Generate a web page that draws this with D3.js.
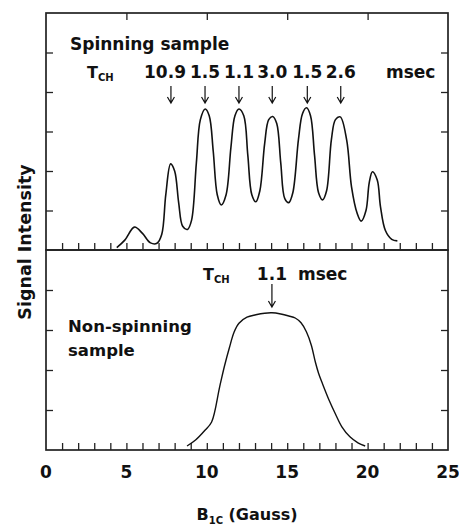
<!DOCTYPE html>
<html>
<head>
<meta charset="utf-8">
<script src="https://cdn.jsdelivr.net/npm/d3@7"></script>
<style>
    body { margin: 0; background: #fff; }
    text { font-family: "DejaVu Sans", sans-serif; font-weight: bold; fill: #111; }
</style>
</head>
<body>
<script>
// spinning sample spectrum: field (Gauss) and signal intensity (arb.)
const spinField = [4.4, 4.9, 5.5, 6.0, 6.5, 6.9, 7.2, 7.45, 7.75, 8.0, 8.25, 8.5, 8.8, 9.05, 9.35, 9.6, 9.9, 10.15,
    10.4, 10.65, 10.9, 11.2, 11.5, 11.75, 12.0, 12.3, 12.55, 12.8, 13.05, 13.3, 13.6, 13.85, 14.1, 14.35, 14.6,
    14.85, 15.1, 15.35, 15.7, 15.95, 16.2, 16.45, 16.7, 16.95, 17.2, 17.45, 17.75, 18.0, 18.3, 18.7, 19.0, 19.35,
    19.6, 19.9, 20.1, 20.3, 20.6, 20.8, 21.1, 21.5, 21.85];
const spinSignal = [0.06, 0.25, 0.58, 0.42, 0.18, 0.17, 0.4, 1.4, 2.18, 2.0, 1.2, 0.6, 0.52, 0.75, 2.2, 3.3, 3.57, 3.4,
    2.5, 1.4, 1.14, 1.4, 2.6, 3.4, 3.57, 3.4, 2.4, 1.4, 1.22, 1.5, 2.7, 3.3, 3.38, 3.2, 2.2,
    1.3, 1.2, 1.45, 2.8, 3.45, 3.6, 3.4, 2.4, 1.45, 1.27, 1.5, 2.8, 3.3, 3.37, 2.78, 1.6, 0.93,
    0.73, 1.0, 1.7, 1.98, 1.77, 1.1, 0.5, 0.27, 0.23];

// non-spinning sample spectrum
const staticField = [8.77, 9.3, 9.9, 10.3, 10.8, 11.1, 11.4, 11.7, 12.0, 12.5, 13.05, 13.6, 14.05, 14.6, 15.1, 15.5,
    15.86, 16.2, 16.5, 16.75, 16.95, 17.2, 17.6, 18.0, 18.4, 18.9, 19.4, 19.85];
const staticSignal = [0.1, 0.25, 0.5, 0.7, 1.58, 2.1, 2.55, 2.95, 3.17, 3.32, 3.38, 3.42, 3.43, 3.4, 3.35, 3.3,
    3.18, 2.95, 2.62, 2.2, 1.92, 1.65, 1.25, 0.9, 0.58, 0.33, 0.18, 0.1];

// T_CH annotations
const spinTchField = [7.77, 9.89, 12.0, 14.07, 16.25, 18.33];
const spinTchLabels = ["10.9", "1.5", "1.1", "3.0", "1.5", "2.6"];
const staticTchField = [14.05];
const staticTchLabels = ["1.1"];

const xTickLabels = [0, 5, 10, 15, 20, 25];

const svgWidth = 459;
const svgHeight = 526;
const plot = {left: 46, right: 448, top: 13, mid: 250, bottom: 450};
const tickLen = 7;

window.onload = main;

function main() {
    const svg = d3.select("body").append("svg")
        .attr("width", svgWidth)
        .attr("height", svgHeight);

    const x = d3.scaleLinear().domain([0, 25]).range([plot.left, plot.right]);
    const yTop = d3.scaleLinear().domain([0, 6]).range([plot.mid, plot.top]);
    const yBot = d3.scaleLinear().domain([0, 5]).range([plot.bottom, plot.mid]);

    // axes (ticks all point inward)
    const noLabel = () => "";
    const addAxis = (axis, tx, ty) => {
        const g = svg.append("g").attr("transform", `translate(${tx},${ty})`).call(axis);
        g.select(".domain").remove();
        g.selectAll("line").attr("stroke", "#222").attr("stroke-width", 1.3);
        return g;
    };
    addAxis(d3.axisTop(x).tickValues([5, 10, 15, 20]).tickSize(-tickLen).tickFormat(noLabel), 0, plot.top);
    addAxis(d3.axisBottom(x).tickValues(d3.range(1, 25)).tickSize(-tickLen).tickFormat(noLabel), 0, plot.mid);
    addAxis(d3.axisLeft(yTop).tickValues([1, 2, 3, 4, 5]).tickSize(-tickLen).tickFormat(noLabel), plot.left, 0);
    addAxis(d3.axisRight(yTop).tickValues([1, 2, 3, 4, 5]).tickSize(-tickLen).tickFormat(noLabel), plot.right, 0);
    addAxis(d3.axisLeft(yBot).tickValues([1, 2, 3, 4]).tickSize(-tickLen).tickFormat(noLabel), plot.left, 0);
    addAxis(d3.axisRight(yBot).tickValues([1, 2, 3, 4]).tickSize(-tickLen).tickFormat(noLabel), plot.right, 0);
    addAxis(d3.axisBottom(x).tickValues(d3.range(1, 25)).tickSize(-tickLen).tickFormat(noLabel), 0, plot.bottom);

    svg.append("g")
        .selectAll("text")
        .data(xTickLabels)
        .join("text")
        .attr("x", d => x(d))
        .attr("y", plot.bottom + 28)
        .attr("text-anchor", "middle")
        .style("font-size", "17px")
        .text(d => d);

    // frames
    [[plot.top, plot.mid], [plot.mid, plot.bottom]].forEach(([t, b]) => {
        svg.append("rect")
            .attr("x", plot.left).attr("y", t)
            .attr("width", plot.right - plot.left).attr("height", b - t)
            .attr("fill", "none").attr("stroke", "#222").attr("stroke-width", 1.7);
    });

    // curves
    const lineTop = d3.line().x(d => x(d[0])).y(d => yTop(d[1])).curve(d3.curveCatmullRom.alpha(0.5));
    const lineBot = d3.line().x(d => x(d[0])).y(d => yBot(d[1])).curve(d3.curveCatmullRom.alpha(0.5));

    svg.append("path")
        .datum(d3.zip(spinField, spinSignal))
        .attr("d", lineTop)
        .attr("fill", "none").attr("stroke", "#111").attr("stroke-width", 1.6);
    svg.append("path")
        .datum(d3.zip(staticField, staticSignal))
        .attr("d", lineBot)
        .attr("fill", "none").attr("stroke", "#111").attr("stroke-width", 1.4);

    // annotations
    svg.append("text").attr("x", 70).attr("y", 50).style("font-size", "17px").text("Spinning sample");
    add_tch(svg, 87, 78);
    svg.append("text").attr("x", 386).attr("y", 78).style("font-size", "17px").text("msec");
    add_values(svg, spinTchField.map(x), spinTchLabels, 78, 86, 103);

    add_tch(svg, 203, 280);
    svg.append("text").attr("x", 298).attr("y", 280).style("font-size", "17px").text("msec");
    add_values(svg, staticTchField.map(x), staticTchLabels, 280, 284, 307);

    svg.append("text").attr("x", 68).attr("y", 332).style("font-size", "16.5px").text("Non-spinning");
    svg.append("text").attr("x", 68).attr("y", 356).style("font-size", "16.5px").text("sample");

    // axis titles
    svg.append("text")
        .attr("transform", `translate(31, 242) rotate(-90)`)
        .attr("text-anchor", "middle")
        .style("font-size", "17.5px")
        .text("Signal Intensity");

    const xt = svg.append("text")
        .attr("x", (plot.left + plot.right) / 2)
        .attr("y", 520)
        .attr("text-anchor", "middle")
        .style("font-size", "16px");
    xt.append("tspan").text("B");
    xt.append("tspan").attr("dy", 4).style("font-size", "10px").text("1C");
    xt.append("tspan").attr("dy", -4).text(" (Gauss)");
}

function add_tch(svg, x0, y0) {
    const t = svg.append("text").attr("x", x0).attr("y", y0).style("font-size", "16px");
    t.append("tspan").text("T");
    t.append("tspan").attr("dy", 3).style("font-size", "10px").text("CH");
}

// value labels with the decimal point placed over its arrow
function add_values(svg, xs, labels, yText, yArrow0, yArrow1) {
    const g = svg.append("g");
    labels.forEach((lab, i) => {
        const t = g.append("text")
            .attr("x", 0).attr("y", yText)
            .style("font-size", "17px")
            .text(lab);
        const dot = lab.indexOf(".");
        const node = t.node();
        const off = node.getSubStringLength(0, dot) + node.getSubStringLength(dot, 1) / 2;
        t.attr("x", xs[i] - off);

        g.append("path")
            .attr("d", `M${xs[i]},${yArrow0}V${yArrow1}M${xs[i] - 3.5},${yArrow1 - 6}L${xs[i]},${yArrow1}L${xs[i] + 3.5},${yArrow1 - 6}`)
            .attr("fill", "none").attr("stroke", "#111").attr("stroke-width", 1.2);
    });
}
</script>
</body>
</html>
